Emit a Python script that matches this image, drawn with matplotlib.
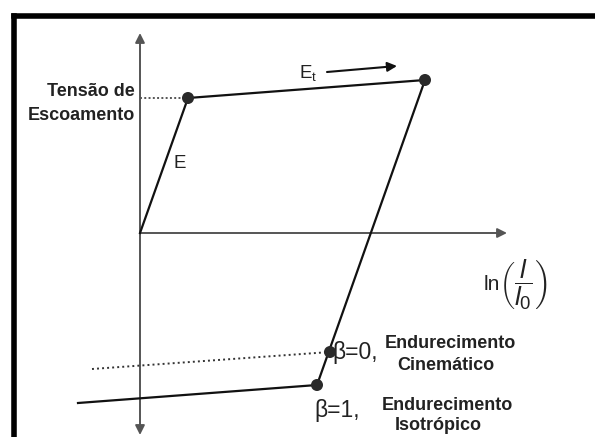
import matplotlib
matplotlib.use("Agg")
import matplotlib.pyplot as plt
from matplotlib.lines import Line2D

plt.rcParams['font.family'] = ['Liberation Sans', 'DejaVu Sans']
plt.rcParams['mathtext.fontset'] = 'custom'
plt.rcParams['mathtext.rm'] = 'Liberation Sans'
plt.rcParams['mathtext.it'] = 'Liberation Sans:italic'

# stress-strain path (strain, stress) in arbitrary units
strain_load = [0, 48, 285]        # origin -> yield -> max load
stress_load = [0, 135, 153]
strain_unload = [285, 177]        # unloading with slope E
stress_unload = [153, -152]
yield_stress = 135

# reverse yield lines
strain_iso = [-62, 177]           # beta = 1, isotropic
stress_iso = [-170, -152]
strain_kin = [-48, 190]           # beta = 0, kinematic
stress_kin = [-136, -119]

fig = plt.figure(figsize=(5.95, 4.37), dpi=100)
ax = fig.add_axes([0, 0, 1, 1])
ax.set_xlim(-140, 455)
ax.set_ylim(-204, 233)
ax.axis('off')

axis_col = '#555555'
# axes with arrows
ax.annotate('', xy=(0, 200), xytext=(0, -202),
            arrowprops=dict(arrowstyle='<|-|>', color=axis_col, lw=1.4,
                            mutation_scale=14, shrinkA=0, shrinkB=0))
ax.annotate('', xy=(367, 0), xytext=(0, 0),
            arrowprops=dict(arrowstyle='-|>', color=axis_col, lw=1.4,
                            mutation_scale=14, shrinkA=0, shrinkB=0))

# curve
ax.plot(strain_load, stress_load, color='#111111', lw=1.6, zorder=3)
ax.plot(strain_unload, stress_unload, color='#111111', lw=1.6, zorder=3)
ax.plot(strain_iso, stress_iso, color='#111111', lw=1.6, zorder=3)
ax.plot(strain_kin, stress_kin, color='#333333', lw=1.4, ls=(0, (1, 1.6)), zorder=3)
ax.plot([0, strain_load[1]], [yield_stress, yield_stress], color='#555555', lw=1.4,
        ls=(0, (1, 1.2)), zorder=2)

# dots
ax.scatter([strain_load[1], strain_load[2], strain_kin[1], strain_iso[1]],
           [stress_load[1], stress_load[2], stress_kin[1], stress_iso[1]],
           s=75, color='#2a2a2a', zorder=5, edgecolors='none')

# labels
lab = dict(fontsize=13, fontweight='bold', color='#222222', va='center')
ax.text(-5, 141, 'Tensão de', ha='right', **lab)
ax.text(-5, 118, 'Escoamento', ha='right', **lab)
ax.text(40, 70, 'E', ha='center', va='center', fontsize=13.5, color='#222222')
ax.text(168, 160, r'E$_\mathrm{t}$', ha='center', va='center', fontsize=13.5, color='#222222')
ax.annotate('', xy=(257, 167), xytext=(187, 161),
            arrowprops=dict(arrowstyle='-|>', color='#111111', lw=1.5,
                            mutation_scale=14, shrinkA=0, shrinkB=0))
ax.text(344, -52, 'ln', ha='left', va='center', fontsize=15, color='#222222')
ax.text(359, -52, r'$\left(\dfrac{l}{l_0}\right)$', ha='left', va='center',
        fontsize=19, color='#222222')

ax.text(192, -120, 'β=0,', ha='left', va='center', fontsize=16.5, color='#222222')
ax.text(310, -111, 'Endurecimento', ha='center', **lab)
ax.text(306, -132, 'Cinemático', ha='center', **lab)
ax.text(174, -177, 'β=1,', ha='left', va='center', fontsize=16.5, color='#222222')
ax.text(307, -172, 'Endurecimento', ha='center', **lab)
ax.text(298, -192, 'Isotrópico', ha='center', **lab)

# frame (top and left edges only)
fig.add_artist(Line2D([13.5 / 595, 13.5 / 595], [0, 1 - 15.5 / 437], color='black', lw=4,
                      transform=fig.transFigure, solid_capstyle='projecting'))
fig.add_artist(Line2D([13.5 / 595, 1], [1 - 15.5 / 437, 1 - 15.5 / 437], color='black', lw=4,
                      transform=fig.transFigure, solid_capstyle='projecting'))

fig.savefig('out.png', dpi=100, facecolor='white')
